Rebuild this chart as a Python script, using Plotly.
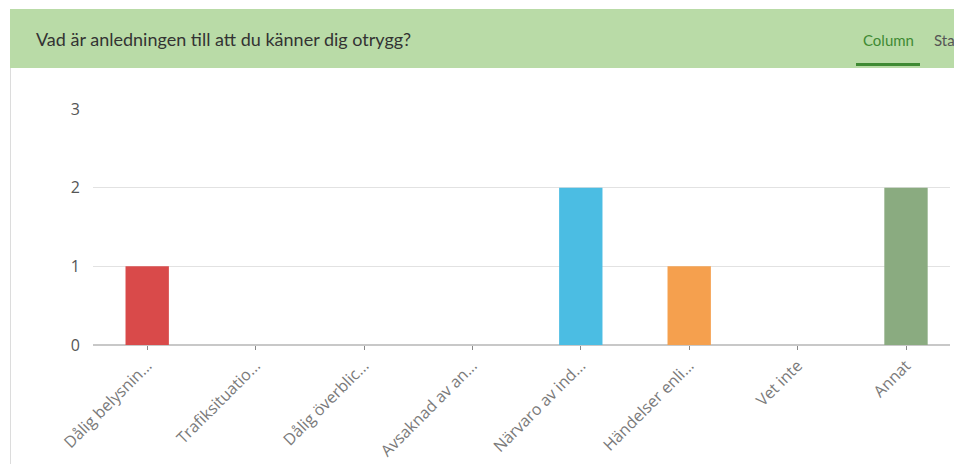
import plotly.graph_objects as go

categories = ["Dålig belysnin...", "Trafiksituatio...", "Dålig överblic...", "Avsaknad av an...",
              "Närvaro av ind...", "Händelser enli...", "Vet inte", "Annat"]
counts = [1, 0, 0, 0, 2, 1, 0, 2]
bar_colors = ["#d94a4a", "#e0e0e0", "#e0e0e0", "#e0e0e0", "#4bbde3", "#f5a04e", "#e0e0e0", "#8aab80"]
y_ticks = [0, 1, 2, 3]
title_text = "Vad är anledningen till att du känner dig otrygg?"

W, H = 954, 464
L, R, T, B = 93, 4, 109, 119
pw, ph = W - L - R, H - T - B


def px(x):
    return (x - L) / pw


def py(y):
    return (H - B - y) / ph


fig = go.Figure()
fig.add_trace(go.Bar(
    x=list(range(len(categories))), y=counts, width=0.4,
    marker=dict(color=bar_colors, line=dict(width=0)),
    hoverinfo="skip",
))

tick_font = "'Open Sans', sans-serif"
head_font = "Lato, sans-serif"
fig.update_layout(
    width=W, height=H, autosize=False,
    margin=dict(l=L, r=R, t=T, b=B, pad=0, autoexpand=False),
    paper_bgcolor="white", plot_bgcolor="white",
    showlegend=False,
    font=dict(family=tick_font, color="#555"),
    xaxis=dict(
        range=[-0.5, -0.5 + pw / 108.4], automargin=False,
        tickmode="array", tickvals=list(range(len(categories))), ticktext=categories,
        tickangle=-45, tickfont=dict(size=16, color="#7a7a7a"),
        ticks="outside", ticklen=4, tickcolor="#888", tickwidth=1,
        showgrid=False, showline=False, zeroline=False, fixedrange=True,
    ),
    yaxis=dict(
        range=[0, 3], tickmode="array", tickvals=y_ticks, automargin=False,
        tickfont=dict(size=16, color="#555"),
        showgrid=True, gridcolor="#e2e2e2", gridwidth=1,
        zeroline=True, zerolinecolor="#c8c8c8", zerolinewidth=2,
        showline=False, ticks="", ticklabelstandoff=12, fixedrange=True,
    ),
)

shapes = [
    dict(type="rect", xref="paper", yref="paper", x0=px(10), x1=px(960), y0=py(68), y1=py(9),
         fillcolor="#b9dba7", line=dict(width=0), layer="below"),
    dict(type="line", xref="paper", yref="paper", x0=px(10.5), x1=px(10.5), y0=py(470), y1=py(68),
         line=dict(color="#dcdcdc", width=1)),
    dict(type="rect", xref="paper", yref="paper", x0=px(856), x1=px(920), y0=py(66), y1=py(63),
         fillcolor="#3f8a33", line=dict(width=0)),
]
fig.update_layout(shapes=shapes)

fig.add_annotation(x=px(34), y=py(39), xref="paper", yref="paper", text=title_text,
                   showarrow=False, xanchor="left", yanchor="middle",
                   font=dict(size=18, color="#333", family=head_font))
fig.add_annotation(x=px(888), y=py(40), xref="paper", yref="paper", text="Column",
                   showarrow=False, xanchor="center", yanchor="middle",
                   font=dict(size=15, color="#3f8a33", family=head_font))
fig.add_annotation(x=px(932), y=py(40), xref="paper", yref="paper", text="Sta",
                   showarrow=False, xanchor="left", yanchor="middle",
                   font=dict(size=15, color="#555", family=head_font))

fig.write_html("out.html", config={"displayModeBar": False, "responsive": False},
               post_script="document.body.style.margin='0';document.body.style.overflow='hidden';")
